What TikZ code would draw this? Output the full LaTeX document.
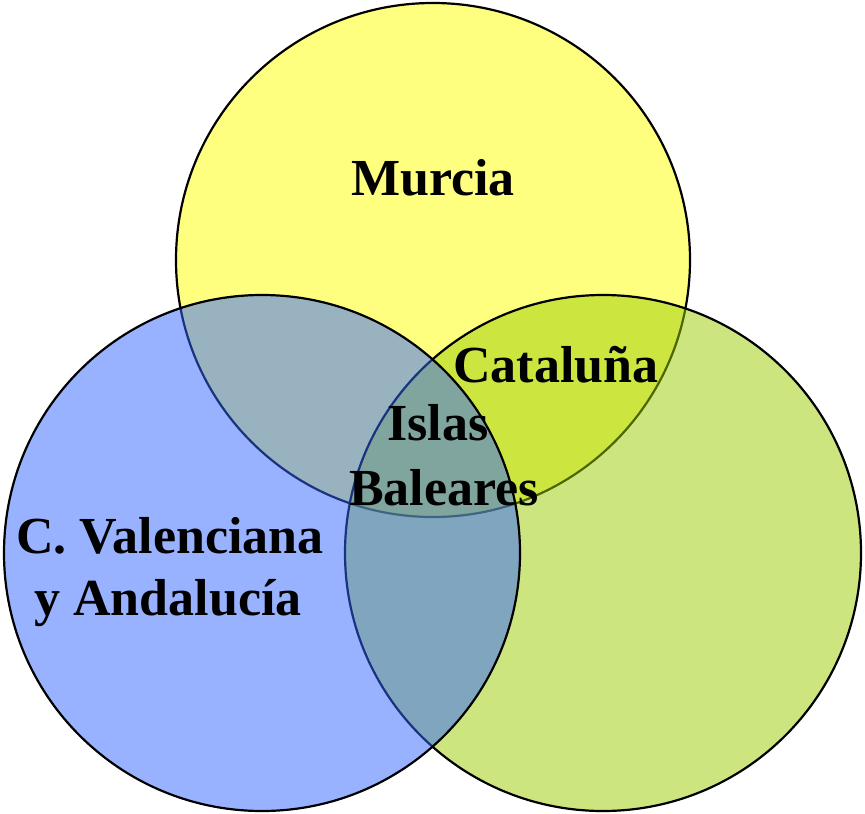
\documentclass[tikz,border=0pt]{standalone}
\usepackage{fontspec}
\setmainfont{Liberation Serif}
\begin{document}
\begin{tikzpicture}[x=1pt,y=-1pt,
  set/.style={draw=black,line width=2.2pt,fill opacity=0.5},
  lbl/.style={font=\bfseries\fontsize{52}{63}\selectfont,anchor=base,inner sep=0pt}]
\useasboundingbox (0,0) rectangle (865,814);
\definecolor{cyel}{RGB}{255,255,0}
\definecolor{cgrn}{RGB}{153,204,0}
\definecolor{cblu}{RGB}{51,102,255}
\path[set,fill=cyel] (433,260) circle[radius=257];
\path[set,fill=cgrn] (603,553) circle[radius=258];
\path[set,fill=cblu] (262,553) circle[radius=258];
\node[lbl] (murcia) at (433,195) {Murcia};
\node[lbl] (cat) at (556,382) {Cataluña};
\node[lbl] (islas) at (438,440) {Islas};
\node[lbl] (bal) at (444,505) {Baleares};
\node[lbl] (cval) at (170,553) {C. Valenciana};
\node[lbl] (and) at (168,615) {y Andalucía};
\end{tikzpicture}
\end{document}
